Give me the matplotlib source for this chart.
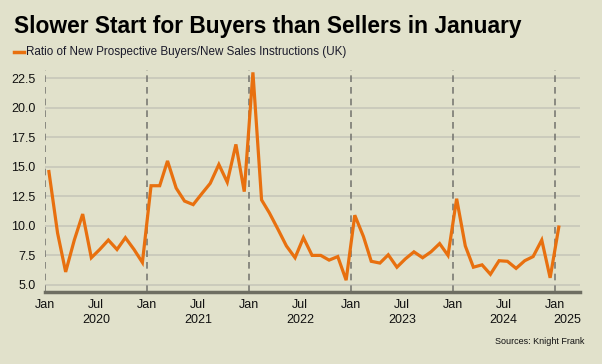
import numpy as np
import pandas as pd
import matplotlib as mpl
mpl.use("Agg")
from matplotlib import pyplot as plt

# monthly ratio, Jan 2020 .. Jan 2025
values_2020 = [14.6, 9.4, 6.1, 8.8, 11.0, 7.3, 8.0, 8.8, 8.0, 9.0, 8.0, 6.9]
values_2021 = [13.4, 13.4, 15.5, 13.2, 12.1, 11.8, 12.7, 13.6, 15.2, 13.7, 16.9, 12.9]
values_2022 = [23.0, 12.2, 11.1, 9.7, 8.3, 7.3, 9.0, 7.5, 7.5, 7.1, 7.4, 5.4]
values_2023 = [10.9, 9.1, 7.0, 6.85, 7.55, 6.5, 7.2, 7.8, 7.3, 7.8, 8.5, 7.5]
values_2024 = [12.3, 8.3, 6.5, 6.7, 5.9, 7.05, 7.0, 6.4, 7.05, 7.4, 8.8, 5.6]
values_2025 = [9.9]
ratio = values_2020 + values_2021 + values_2022 + values_2023 + values_2024 + values_2025
dates = pd.date_range("2020-01-01", periods=len(ratio), freq="MS") + pd.Timedelta(days=14)

years = [2020, 2021, 2022, 2023, 2024, 2025]
yticks = [5.0, 7.5, 10.0, 12.5, 15.0, 17.5, 20.0, 22.5]

bg = "#E1E1CB"
orange = "#E8700F"
font = ["Liberation Sans", "DejaVu Sans"]
plt.rcParams["font.family"] = font

fig = plt.figure(figsize=(6.02, 3.64), dpi=100, facecolor=bg)
ax = fig.add_axes([45 / 602, 1 - 292 / 364, 535 / 602, 222 / 364])
ax.set_facecolor(bg)

x_left = pd.Timestamp("2020-01-01")
x_right = pd.Timestamp("2025-04-01")
ax.set_xlim(x_left, x_right)
ax.set_ylim(4.4, 23.2)

# horizontal grid
for y in yticks:
    ax.axhline(y, color="#C9C9BB", lw=1.3, zorder=1)
# dashed year separators
for yr in years:
    ax.axvline(pd.Timestamp(f"{yr}-01-01"), color="#7A7A74", lw=1.2,
               ls=(0, (4, 3)), zorder=2)

ax.plot(dates, ratio, color=orange, lw=2.3, zorder=3, solid_joinstyle="miter")

for s in ["top", "right", "left"]:
    ax.spines[s].set_visible(False)
ax.spines["bottom"].set_color("#6E6E62")
ax.spines["bottom"].set_linewidth(2.5)

ax.set_yticks(yticks)
ax.set_yticklabels([f"{v:.1f}" for v in yticks])
xt = []
xl = []
for yr in years:
    xt.append(pd.Timestamp(f"{yr}-01-01"))
    xl.append("Jan")
    if yr < 2025:
        xt.append(pd.Timestamp(f"{yr}-07-01"))
        xl.append("Jul")
ax.set_xticks(xt)
ax.set_xticklabels(xl)
ax.tick_params(length=0, labelsize=9, colors="#111111", pad=5)
ax.tick_params(axis="y", pad=7)

# year labels under the months
for yr in years:
    start = pd.Timestamp(f"{yr}-01-01")
    end = min(pd.Timestamp(f"{yr + 1}-01-01"), x_right)
    mid = start + (end - start) / 2
    ax.text(mid, -0.1, str(yr), transform=ax.get_xaxis_transform(),
            ha="center", va="top", fontsize=9, color="#111111")

fig.text(14 / 602, 1 - 33 / 364, "Slower Start for Buyers than Sellers in January",
         fontsize=16.4, fontweight="bold", color="#000000", va="baseline")
fig.add_artist(plt.Line2D([14 / 602, 24 / 602], [1 - 52 / 364] * 2,
                          color=orange, lw=2.5, transform=fig.transFigure))
fig.text(26 / 602, 1 - 52 / 364, "Ratio of New Prospective Buyers/New Sales Instructions (UK)",
         fontsize=8.4, color="#1a1a2a", va="center")
fig.text(584 / 602, 1 - 342 / 364, "Sources: Knight Frank", fontsize=6.5,
         color="#111111", ha="right", va="center")

fig.savefig("out.png", dpi=100, facecolor=bg)
